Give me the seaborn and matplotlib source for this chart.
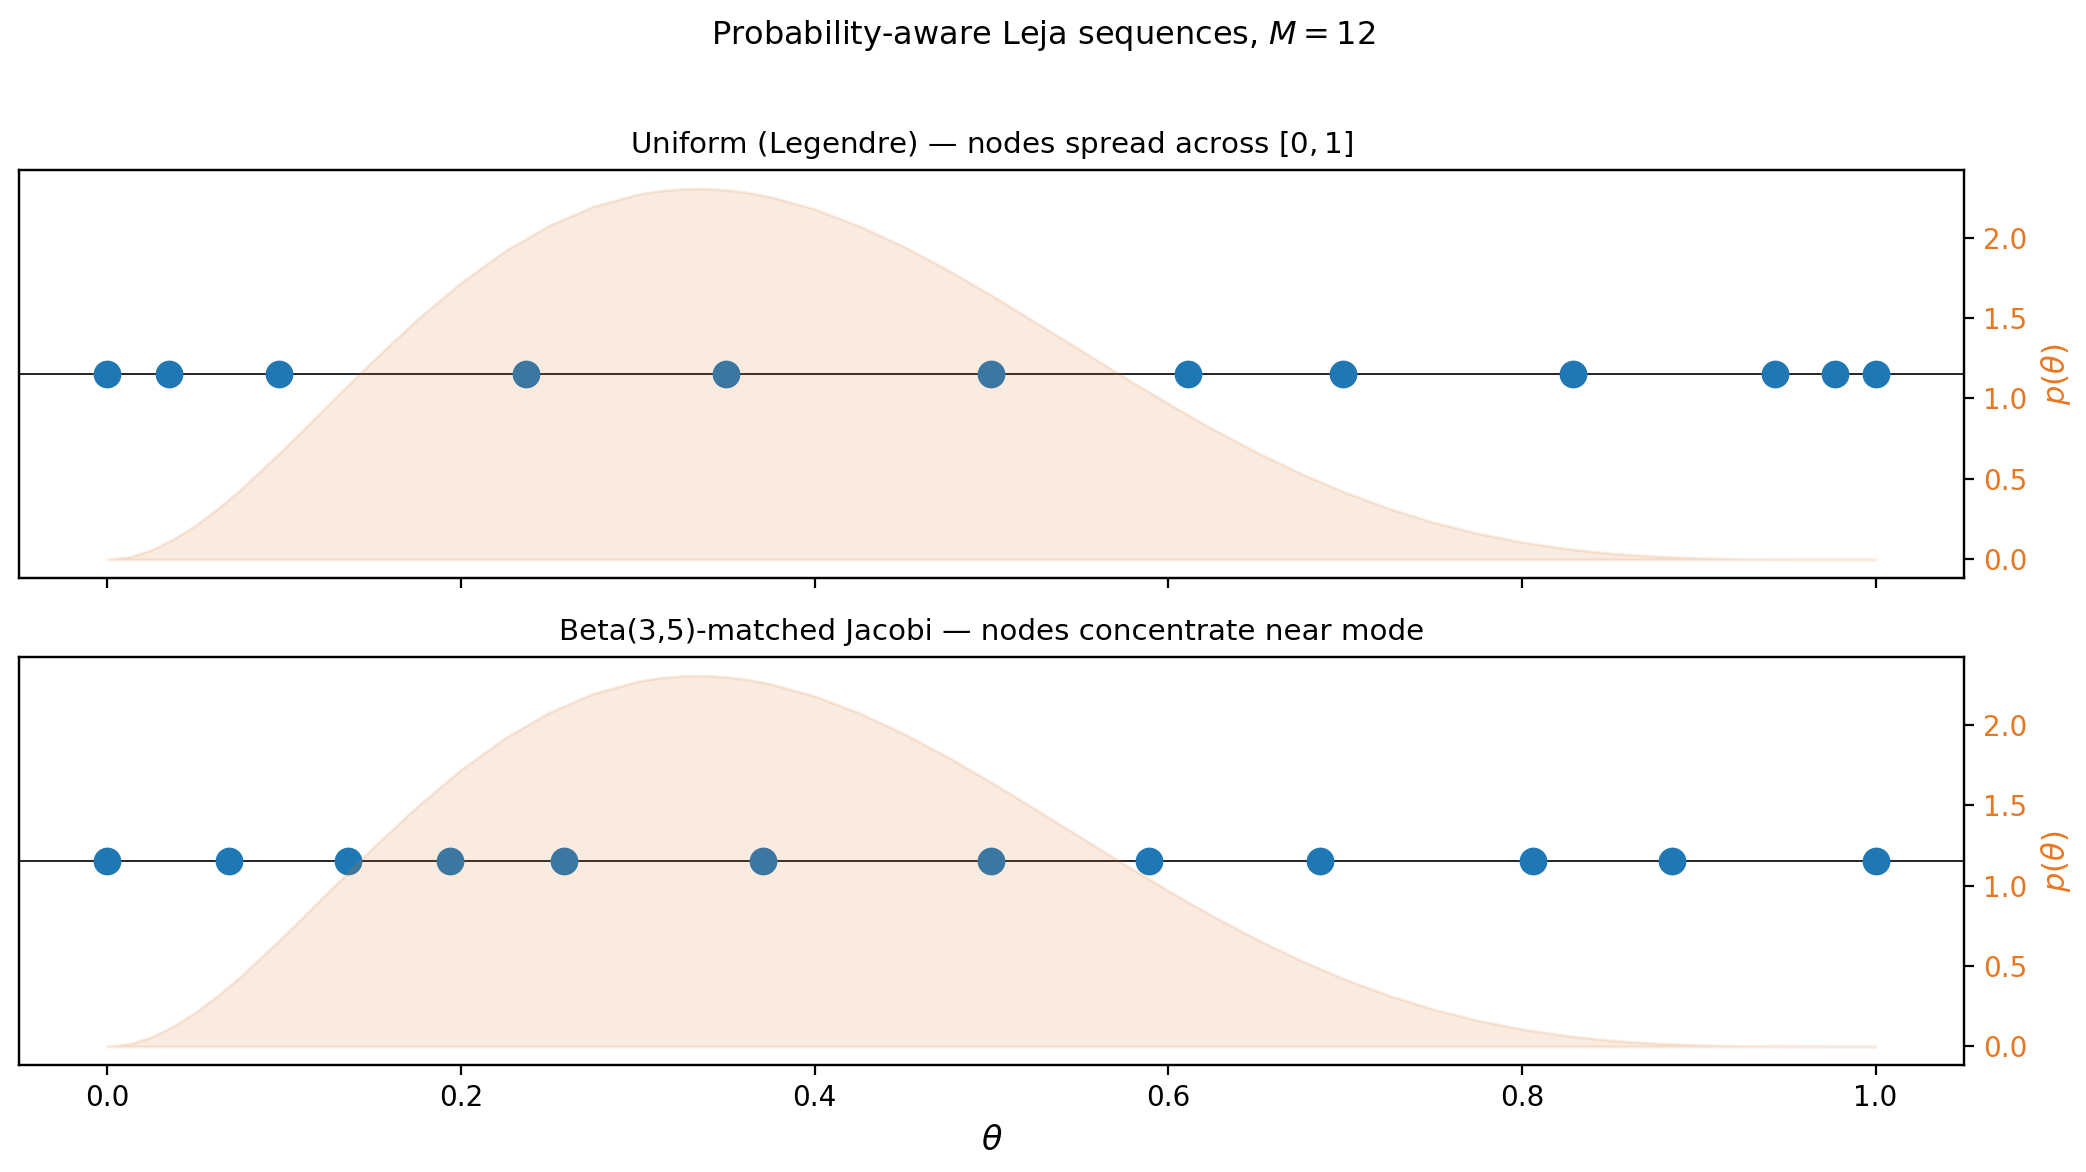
import numpy as np
import pandas as pd
import matplotlib
matplotlib.use("Agg")
import matplotlib.pyplot as plt
import seaborn as sns

# Leja nodes
uniform_nodes = [0.0, 0.035, 0.097, 0.237, 0.350, 0.500, 0.611, 0.699, 0.829, 0.943, 0.977, 1.0]
beta_nodes = [0.0, 0.069, 0.136, 0.194, 0.258, 0.371, 0.500, 0.589, 0.686, 0.806, 0.885, 1.0]

# Beta(3,5) density, tabulated (denser near the start and the mode)
theta_grid = [0.0, 0.0125, 0.025, 0.0375, 0.05, 0.0625, 0.075, 0.1, 0.125, 0.15,
              0.175, 0.2, 0.225, 0.25, 0.275, 0.3, 0.3125, 0.325, 0.3375, 0.35,
              0.3625, 0.375, 0.4, 0.425, 0.45, 0.475, 0.5, 0.525, 0.55, 0.575,
              0.6, 0.625, 0.65, 0.675, 0.7, 0.725, 0.75, 0.775, 0.8, 0.825,
              0.85, 0.875, 0.9, 0.925, 0.95, 0.975, 1.0]
density = [0.0, 0.016, 0.059, 0.127, 0.214, 0.317, 0.432, 0.689, 0.962, 1.233,
           1.490, 1.720, 1.918, 2.076, 2.194, 2.269, 2.291, 2.302, 2.304, 2.296,
           2.279, 2.253, 2.177, 2.073, 1.946, 1.800, 1.641, 1.473, 1.303, 1.133,
           0.968, 0.811, 0.666, 0.534, 0.417, 0.316, 0.231, 0.162, 0.108, 0.067,
           0.038, 0.020, 0.009, 0.003, 0.001, 0.0, 0.0]

titles = ["Uniform (Legendre) — nodes spread across $[0,1]$",
          "Beta(3,5)-matched Jacobi — nodes concentrate near mode"]

blue = "#1f77b4"
fill_orange = "#de7a30"
label_orange = "#e87722"

fig, axes = plt.subplots(2, 1, figsize=(10.43, 5.86), sharex=True)
fig.subplots_adjust(left=0.0091, right=0.9415, top=0.8549, bottom=0.0913, hspace=0.194)

for ax, nodes, title in zip(axes, [uniform_nodes, beta_nodes], titles):
    df = pd.DataFrame({"theta": nodes, "y": np.zeros(len(nodes))})
    ax.axhline(0, color="black", lw=0.6, zorder=1)
    sns.scatterplot(data=df, x="theta", y="y", ax=ax, s=100, color=blue,
                    linewidth=0, zorder=3)
    ax.set_ylim(-1, 1)
    ax.set_yticks([])
    ax.set_ylabel("")
    ax.set_xlabel("")
    ax.set_title(title, fontsize=10.6)

    ax2 = ax.twinx()
    ax2.fill_between(theta_grid, 0, density, color=fill_orange, alpha=0.15)
    ax2.set_ylabel(r"$p(\theta)$", color=label_orange, fontsize=11)
    ax2.tick_params(axis="y", labelcolor=label_orange)

axes[0].tick_params(axis="x", labelbottom=False)
axes[1].set_xlabel(r"$\theta$", fontsize=12)

fig.suptitle(r"Probability-aware Leja sequences, $M=12$", fontsize=11.5,
             y=0.970, va="center")
fig.savefig("out.png", dpi=200)
